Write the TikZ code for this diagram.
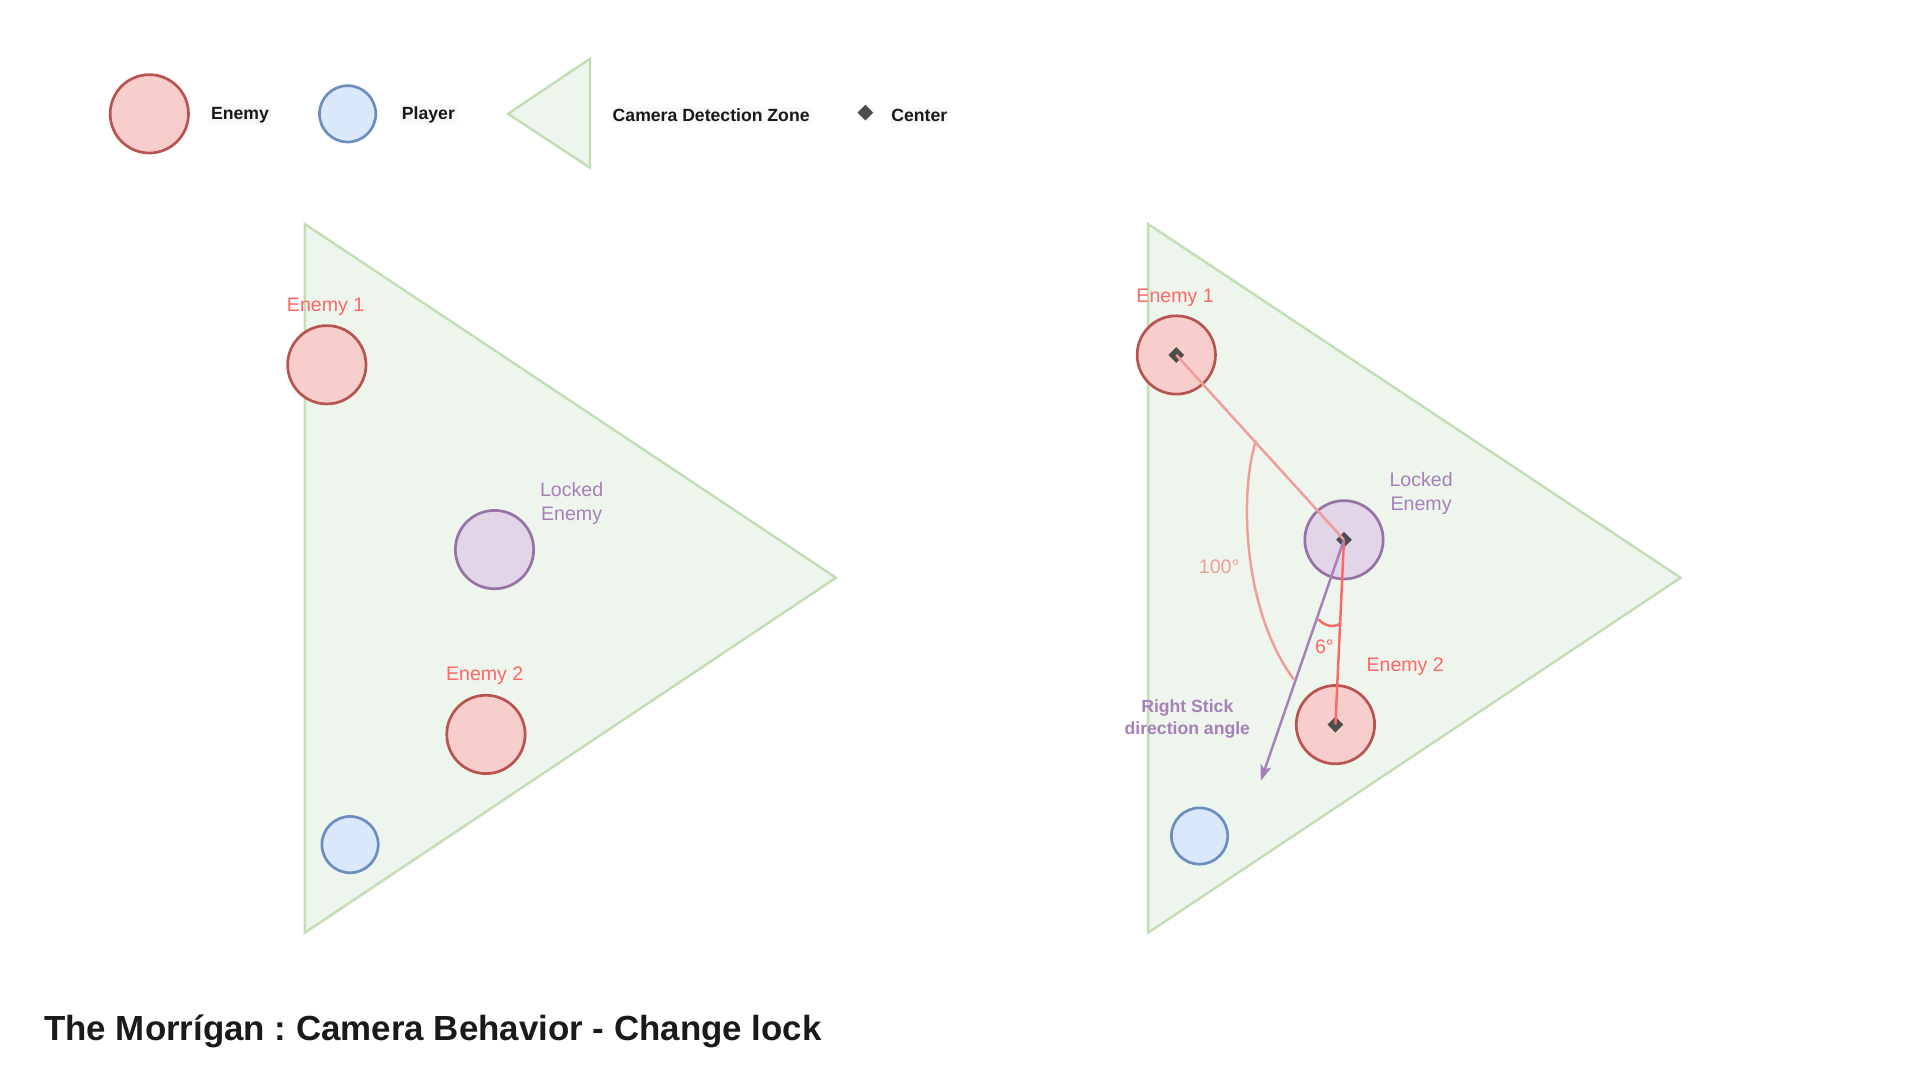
\documentclass[tikz,border=0pt]{standalone}
\usepackage{fontspec}
\setmainfont{Liberation Sans}
\usetikzlibrary{shapes.geometric,arrows.meta}
\definecolor{enemyfill}{HTML}{F8CECC}
\definecolor{enemydraw}{HTML}{B85450}
\definecolor{playerfill}{HTML}{DAE8FC}
\definecolor{playerdraw}{HTML}{6C8EBF}
\definecolor{lockfill}{HTML}{E1D5E7}
\definecolor{lockdraw}{HTML}{9673A6}
\definecolor{zonefill}{HTML}{EEF5EC}
\definecolor{zonedraw}{HTML}{C3DEB5}
\definecolor{redtxt}{HTML}{FF6666}
\definecolor{pinkline}{HTML}{F19C99}
\definecolor{purpletxt}{HTML}{A680B8}
\definecolor{centerc}{HTML}{4D4D4D}
\definecolor{titlec}{HTML}{1A1A1A}
\definecolor{legbg}{HTML}{F8F9FA}
\frenchspacing
\begin{document}
\begin{tikzpicture}[x=1pt,y=-1pt,
  enemy/.style={circle, fill=enemyfill, draw=enemydraw, line width=2.2pt, minimum size=64pt, inner sep=0pt},
  player/.style={circle, fill=playerfill, draw=playerdraw, line width=2.2pt, minimum size=46pt, inner sep=0pt},
  locked/.style={circle, fill=lockfill, draw=lockdraw, line width=2.2pt, minimum size=64pt, inner sep=0pt},
  zone/.style={fill=zonefill, draw=zonedraw, line width=2pt, line join=miter},
  ctr/.style={diamond, fill=centerc, inner sep=0pt, minimum size=13pt},
  leg/.style={font=\bfseries\fontsize{14.4}{17}\selectfont, text=black!90, fill=legbg, inner sep=1.5pt},
  elabel/.style={font=\fontsize{16}{19.5}\selectfont, text=redtxt, inner sep=0pt},
  llabel/.style={font=\fontsize{16}{19.5}\selectfont, text=purpletxt, align=center, inner sep=0pt},
  pinklabel/.style={font=\fontsize{16}{19.5}\selectfont, text=pinkline, inner sep=0pt},
  sticklabel/.style={font=\bfseries\fontsize{14.4}{18}\selectfont, text=purpletxt, align=center, inner sep=0pt},
]
\useasboundingbox (0,0) rectangle (1569.4,884);

% ---------- legend ----------
\node[enemy] (legE) at (122,93) {};
\node[leg] (legEt) at (196,94) {Enemy};
\node[player] (legP) at (284,93) {};
\node[leg] (legPt) at (350,94) {Player};
\draw[zone] (415,93) -- (482,48) -- (482,137) -- cycle;
\node[leg] (legZt) at (581,94) {Camera Detection Zone};
\node[ctr] (legC) at (707,92) {};
\node[leg] (legCt) at (751,94) {Center};

% ---------- left diagram ----------
\draw[zone] (249,183) -- (683,472) -- (249,762) -- cycle;
\node[enemy] (e1L) at (267,298) {};
\node[elabel] (e1Lt) at (266,251) {Enemy 1};
\node[locked] (lockL) at (404,449) {};
\node[llabel] (lockLt) at (467,411.5) {Locked\\Enemy};
\node[enemy] (e2L) at (397,600) {};
\node[elabel] (e2Lt) at (396,552) {Enemy 2};
\node[player] (pL) at (286,690) {};

% ---------- right diagram ----------
\draw[zone] (938,183) -- (1373,472) -- (938,762) -- cycle;
\node[enemy] (e1R) at (961,290) {};
\node[elabel] (e1Rt) at (960,243) {Enemy 1};
\node[locked] (lockR) at (1098,441) {};
\node[llabel] (lockRt) at (1161,403) {Locked\\Enemy};
\node[enemy] (e2R) at (1091,592) {};
\node[elabel] (e2Rt) at (1148,545) {Enemy 2};
\node[player] (pR) at (980,683) {};

\node[ctr] (c1) at (e1R.center) {};
\node[ctr] (c2) at (lockR.center) {};
\node[ctr] (c3) at (e2R.center) {};

\coordinate (stickend) at (1030,638);
\coordinate (bigA) at (1026,360);
\coordinate (bigB) at (1057,555);
\coordinate (smallA) at (1077,506);
\coordinate (smallB) at (1095.6,509);

\draw[pinkline, line width=2pt] (e1R.center) -- (lockR.center);
\draw[redtxt, line width=2pt] (lockR.center) -- (e2R.center);
\draw[purpletxt, line width=2pt, -{Stealth[length=13pt,width=9pt,inset=3pt]}] (lockR.center) -- (stickend);
\draw[pinkline, line width=2pt] (bigA) .. controls (1012,405) and (1016,500) .. (bigB);
\draw[redtxt, line width=2pt] (smallA) .. controls (1083,512) and (1090,513) .. (smallB);

\node[pinklabel] (ang100) at (996,463) {100°};
\node[elabel] (ang6) at (1082,528) {6°};
\node[sticklabel] (stickt) at (970,587) {Right Stick\\direction angle};

% ---------- title ----------
\node[anchor=west, font=\bfseries\fontsize{28.5}{34}\selectfont, text=titlec, inner sep=0pt] (title) at (36,843) {The Morrígan : Camera Behavior - Change lock};
\end{tikzpicture}
\end{document}
